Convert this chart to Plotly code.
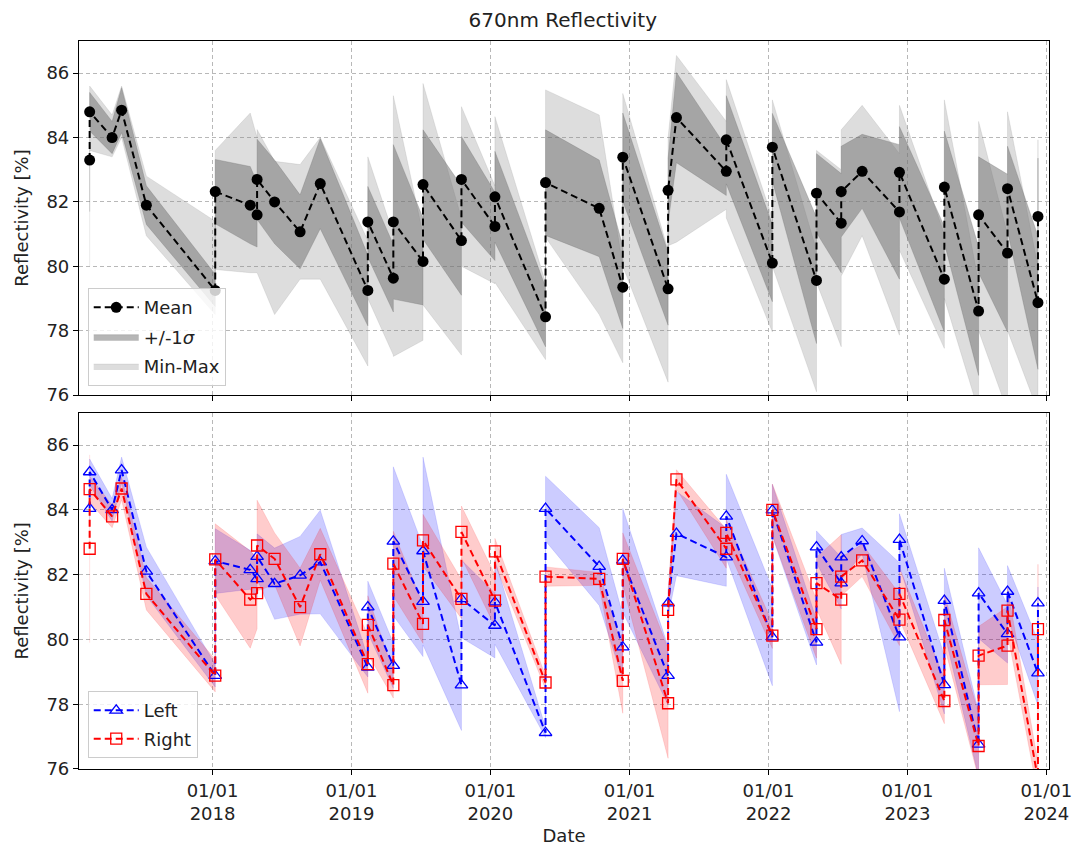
import plotly.graph_objects as go

# ---------------- data ----------------
dates = [
    "2017-02-12", "2017-02-12", "2017-04-12", "2017-05-07", "2017-07-11",
    "2018-01-08", "2018-01-08", "2018-04-10", "2018-04-28", "2018-04-28",
    "2018-06-13", "2018-08-19", "2018-10-11", "2019-02-13", "2019-02-13",
    "2019-04-21", "2019-04-21", "2019-07-08", "2019-07-08", "2019-10-17",
    "2019-10-17", "2020-01-13", "2020-01-13", "2020-05-25", "2020-05-25",
    "2020-10-13", "2020-12-14", "2020-12-14", "2021-04-12", "2021-04-12",
    "2021-05-04", "2021-09-12", "2021-09-12", "2022-01-11", "2022-01-11",
    "2022-05-07", "2022-05-07", "2022-07-11", "2022-07-11", "2022-09-04",
    "2022-12-11", "2022-12-11", "2023-04-08", "2023-04-08", "2023-07-07",
    "2023-07-07", "2023-09-21", "2023-09-21", "2023-12-10", "2023-12-10",
]

mean_vals = [
    83.3, 84.8, 84.0, 84.85, 81.9,
    79.25, 82.32, 81.9, 81.6, 82.7,
    82.0, 81.07, 82.57, 79.25, 81.38,
    79.63, 81.38, 80.15, 82.54, 80.8,
    82.7, 81.24, 82.16, 78.43, 82.6,
    81.8, 79.35, 83.39, 79.3, 82.36,
    84.62, 82.95, 83.93, 80.1, 83.7,
    79.56, 82.27, 81.34, 82.32, 82.95,
    81.69, 82.92, 79.6, 82.46, 78.61,
    81.6, 80.41, 82.41, 78.87, 81.55,
]

mean_sigma = [
    1.6, 0.6, 0.5, 0.7, 0.6,
    0.5, 1.0, 1.2, 1.0, 1.25,
    1.3, 1.15, 1.4, 1.1, 1.1,
    1.05, 2.4, 1.35, 1.7, 1.7,
    1.33, 1.06, 1.41, 0.93, 1.64,
    1.5, 1.28, 1.37, 1.13, 1.0,
    1.4, 0.75, 1.37, 1.2, 1.05,
    1.96, 1.23, 1.54, 1.41, 1.15,
    2.09, 1.42, 1.64, 1.74, 2.0,
    1.8, 2.45, 1.32, 2.07, 1.81,
]

min_vals = [
    80.0, 83.6, 83.4, 84.0, 80.95,
    78.5, 79.9, 79.8, 79.8, 79.8,
    78.5, 79.6, 79.6, 76.9, 79.0,
    77.24, 77.2, 77.7, 78.8, 77.24,
    80.0, 79.46, 79.5, 77.1, 80.9,
    78.5, 77.0, 80.0, 76.4, 80.64,
    80.75, 81.77, 81.5, 77.96, 80.0,
    76.1, 79.5, 77.5, 79.7, 80.95,
    77.86, 80.5, 77.45, 79.0, 75.5,
    78.0, 75.5, 78.0, 75.5, 76.0,
]

max_vals = [
    85.0, 85.6, 84.7, 85.6, 82.8,
    81.4, 83.6, 84.76, 84.0, 84.25,
    83.26, 83.16, 84.0, 80.8, 83.4,
    81.0, 85.3, 81.0, 85.68, 81.5,
    84.96, 82.5, 84.65, 79.5, 85.48,
    84.7, 80.0, 85.37, 80.5, 84.0,
    86.55, 84.5, 85.8, 81.5, 85.17,
    80.5, 83.6, 83.0, 84.24, 85.0,
    83.5, 85.0, 81.0, 85.17, 79.5,
    84.5, 81.0, 84.8, 80.0, 83.93,
]

left_vals = [
    84.04, 85.17, 84.0, 85.23, 82.1,
    78.88, 82.42, 82.15, 81.87, 82.56,
    81.72, 81.98, 82.39, 79.14, 81.0,
    79.19, 83.03, 81.17, 82.73, 78.59,
    81.25, 80.43, 81.15, 77.12, 84.04,
    82.25, 79.76, 82.44, 78.88, 81.12,
    83.27, 82.54, 83.8, 80.07, 83.99,
    79.91, 82.85, 81.74, 82.54, 83.04,
    80.07, 83.08, 78.6, 81.2, 76.76,
    81.43, 80.17, 81.48, 78.96, 81.12,
]

left_sigma = [
    0.5, 0.4, 0.35, 0.4, 0.75,
    0.35, 1.0, 0.6, 0.6, 0.7,
    1.1, 1.2, 1.6, 0.3, 0.8,
    0.7, 2.3, 1.7, 2.9, 1.4,
    1.2, 1.0, 1.3, 0.15, 1.0,
    1.2, 1.0, 1.6, 0.9, 0.4,
    1.3, 0.9, 1.3, 1.5, 0.8,
    0.7, 0.5, 0.8, 0.7, 0.4,
    2.3, 0.8, 0.9, 1.0, 1.0,
    1.4, 0.9, 0.8, 1.0, 0.5,
]

right_vals = [
    82.8, 84.64, 83.8, 84.66, 81.41,
    78.88, 82.47, 81.23, 81.43, 82.9,
    82.49, 81.0, 82.63, 79.24, 80.45,
    78.59, 82.34, 80.48, 83.06, 81.25,
    83.32, 81.2, 82.72, 78.67, 81.94,
    81.87, 78.72, 82.49, 78.03, 80.91,
    84.94, 82.8, 83.29, 80.12, 84.0,
    80.32, 81.74, 81.23, 81.94, 82.44,
    80.61, 81.41, 78.1, 80.6, 76.71,
    79.5, 79.81, 80.89, 75.7, 80.32,
]

right_sigma = [
    2.9, 0.4, 0.35, 0.35, 0.5,
    0.5, 1.1, 1.5, 1.1, 1.4,
    0.8, 1.2, 0.8, 0.9, 0.9,
    0.4, 1.0, 0.6, 0.8, 0.6,
    0.8, 0.8, 0.4, 0.2, 0.3,
    0.2, 1.0, 0.8, 1.7, 0.5,
    0.3, 0.6, 0.4, 0.4, 0.8,
    0.9, 0.8, 2.0, 0.6, 0.5,
    0.8, 0.8, 0.7, 0.8, 1.0,
    0.9, 1.2, 0.7, 0.5, 2.0,
]

year_ticks = ["2018-01-01", "2019-01-01", "2020-01-01", "2021-01-01",
              "2022-01-01", "2023-01-01", "2024-01-01"]
year_labels = ["01/01<br>2018", "01/01<br>2019", "01/01<br>2020", "01/01<br>2021",
               "01/01<br>2022", "01/01<br>2023", "01/01<br>2024"]
y_ticks = [76, 78, 80, 82, 84, 86]

# ---------------- figure ----------------
FONT = "DejaVu Sans, Liberation Sans, sans-serif"
fig = go.Figure()


def band(lo, hi, color, line_color, name, xa, ya, legend, show=True, rank=1000):
    xs = dates + dates[::-1]
    ys = list(hi) + list(lo)[::-1]
    fig.add_trace(go.Scatter(
        x=xs, y=ys, fill="toself", fillcolor=color,
        line=dict(color=line_color, width=0.8), mode="lines",
        name=name, xaxis=xa, yaxis=ya, legend=legend, showlegend=show,
        legendgroup=name, legendrank=rank, hoverinfo="skip"))


# top panel
band(min_vals, max_vals, "rgba(128,128,128,0.27)", "rgba(128,128,128,0.2)",
     "Min-Max", "x", "y", "legend", rank=3)
band([m - s for m, s in zip(mean_vals, mean_sigma)],
     [m + s for m, s in zip(mean_vals, mean_sigma)],
     "rgba(110,110,110,0.5)", "rgba(110,110,110,0.35)",
     "+/-1<i>\u03c3</i>", "x", "y", "legend", rank=2)
fig.add_trace(go.Scatter(
    x=dates, y=mean_vals, mode="lines+markers", name="Mean",
    line=dict(color="black", width=2, dash="7px,4px"),
    marker=dict(symbol="circle", size=11, color="black"),
    xaxis="x", yaxis="y", legend="legend", legendgroup="Mean", legendrank=1))

# bottom panel
band([m - s for m, s in zip(left_vals, left_sigma)],
     [m + s for m, s in zip(left_vals, left_sigma)],
     "rgba(0,0,255,0.2)", "rgba(0,0,255,0.15)", "Left band", "x2", "y2",
     "legend2", show=False)
band([m - s for m, s in zip(right_vals, right_sigma)],
     [m + s for m, s in zip(right_vals, right_sigma)],
     "rgba(255,0,0,0.2)", "rgba(255,0,0,0.15)", "Right band", "x2", "y2",
     "legend2", show=False)
fig.add_trace(go.Scatter(
    x=dates, y=left_vals, mode="lines+markers", name="Left",
    line=dict(color="blue", width=2, dash="7px,4px"),
    marker=dict(symbol="triangle-up-open", size=11, color="blue",
                line=dict(width=1.3, color="blue")),
    xaxis="x2", yaxis="y2", legend="legend2", legendgroup="Left", legendrank=1))
fig.add_trace(go.Scatter(
    x=dates, y=right_vals, mode="lines+markers", name="Right",
    line=dict(color="red", width=2, dash="7px,4px"),
    marker=dict(symbol="square-open", size=11, color="red",
                line=dict(width=1.3, color="red")),
    xaxis="x2", yaxis="y2", legend="legend2", legendgroup="Right", legendrank=2))

xr = ["2017-01-15", "2024-01-08"]
axis_common = dict(
    showline=True, linecolor="black", linewidth=1.2, mirror=True,
    ticks="outside", ticklen=5, tickcolor="black", tickwidth=1.2,
    showgrid=True, gridcolor="#b8b8b8", gridwidth=0.8, griddash="4px,3px",
    zeroline=False, automargin=False, ticklabeloverflow="allow",
    tickfont=dict(size=18, color="#222", family=FONT),
)

fig.update_layout(
    width=1072, height=846,
    margin=dict(l=79, r=23, t=41, b=77),
    paper_bgcolor="white", plot_bgcolor="white",
    font=dict(family=FONT, size=18, color="#222"),
    title=dict(text="670nm Reflectivity", x=0.525, xanchor="center",
               y=0.976, yanchor="middle", font=dict(size=20, family=FONT)),
    xaxis=dict(range=xr, tickvals=year_ticks, ticktext=year_labels,
               showticklabels=False, anchor="y", type="date", **axis_common),
    yaxis=dict(domain=[0.5137, 1.0], range=[76, 87], tickvals=y_ticks,
               anchor="x",
               title=dict(text="Reflectivity [%]", font=dict(size=18), standoff=13),
               **axis_common),
    xaxis2=dict(range=xr, tickvals=year_ticks, ticktext=year_labels,
                anchor="y2", type="date", matches="x",
                title=dict(text="Date", font=dict(size=18), standoff=11),
                **axis_common),
    yaxis2=dict(domain=[0.0, 0.4894], range=[76, 87], tickvals=y_ticks,
                anchor="x2",
                title=dict(text="Reflectivity [%]", font=dict(size=18), standoff=13),
                **axis_common),
    legend=dict(x=0.009, y=0.526, xanchor="left", yanchor="bottom",
                bgcolor="rgba(255,255,255,0.8)", bordercolor="#cccccc",
                borderwidth=1, font=dict(size=18, family=FONT),
                traceorder="grouped", tracegroupgap=3, itemwidth=45),
    legend2=dict(x=0.009, y=0.015, xanchor="left", yanchor="bottom",
                 bgcolor="rgba(255,255,255,0.8)", bordercolor="#cccccc",
                 borderwidth=1, font=dict(size=18, family=FONT),
                 traceorder="grouped", tracegroupgap=2, itemwidth=45),
)

fig.write_html("out.html", config={"displayModeBar": False},
               post_script="document.body.style.margin='0';")
